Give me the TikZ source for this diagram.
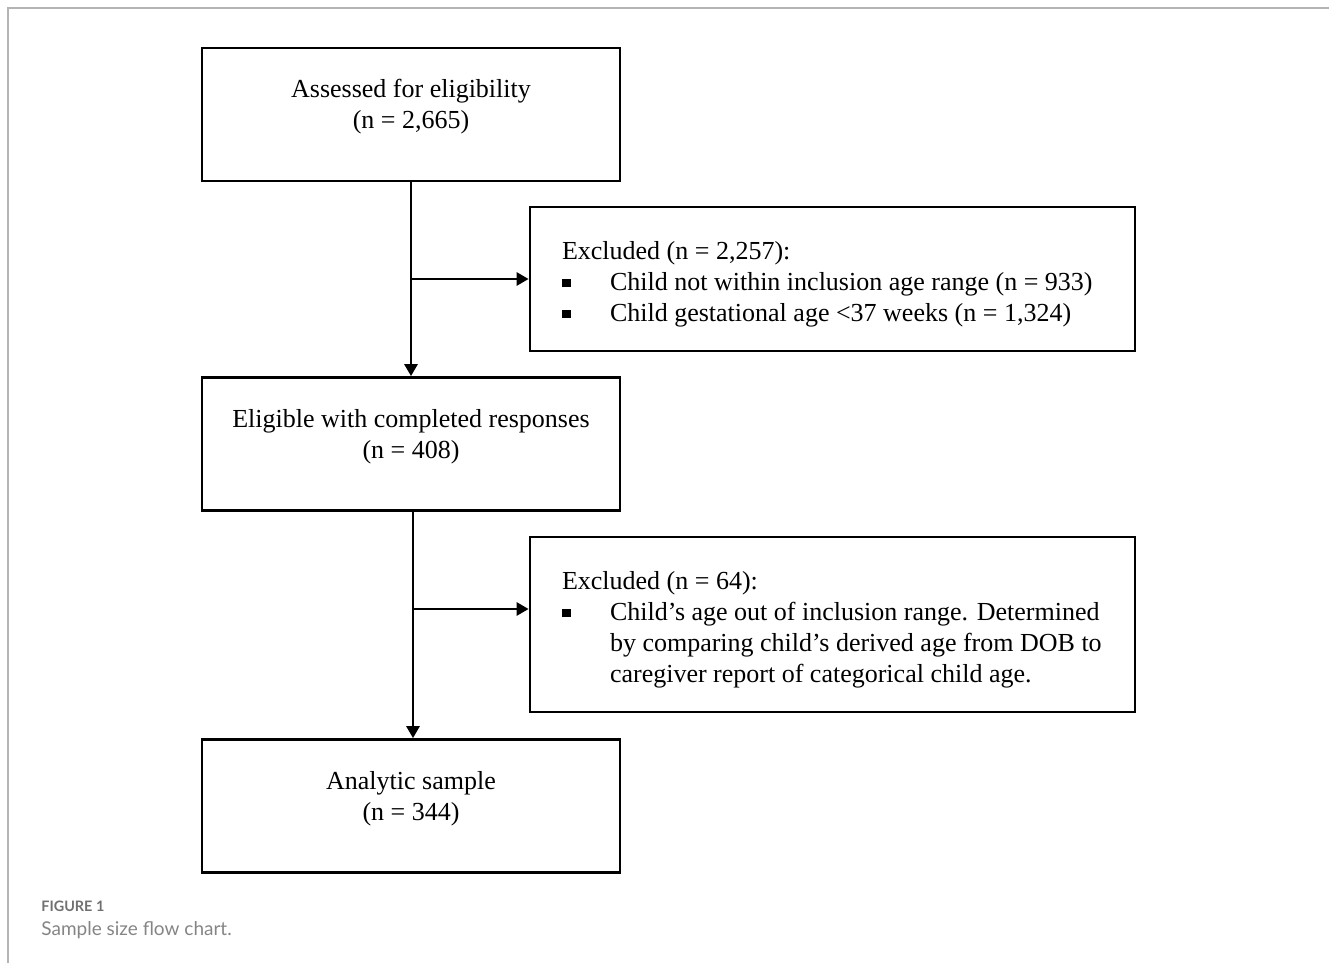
\documentclass[tikz,border=0pt]{standalone}
\usepackage{fontspec}
\setmainfont{Liberation Serif}
\newfontfamily\capfont{Lato}
\usetikzlibrary{arrows.meta,positioning}

\definecolor{framegray}{HTML}{B4B4B4}
\definecolor{capgray}{HTML}{707070}

% square bullet with hanging space
\newcommand{\sqbul}{\makebox[24pt][l]{\rule[1.4pt]{4.4pt}{4.4pt}}}
% two centred lines, lifted a little in the box
\newcommand{\boxlines}[2]{\raisebox{3.8pt}[\height][\depth]{\begin{tabular}{@{}c@{}}#1\\#2\end{tabular}}}
% flush-left lines in a fixed width
\newcommand{\exlines}[1]{\raisebox{-2.5pt}[\height][\depth]{\makebox[270.5pt][l]{\begin{tabular}{@{}l@{}}#1\end{tabular}}}}

\begin{document}
\begin{tikzpicture}[x=0.5pt, y=-0.5pt,
	font=\fontsize{13pt}{15.5pt}\selectfont,
	mainbox/.style={draw, line width=1.35pt, minimum width=209pt, minimum height=66.5pt, inner sep=0pt, align=center},
	exclbox/.style={draw, line width=1.35pt, minimum width=302.5pt, inner xsep=16pt, inner ysep=0pt},
	flow/.style={line width=1.35pt, -{Triangle[length=6pt, width=6.5pt]}}]

	\useasboundingbox (0,0) rectangle (1329,963);
	\draw[framegray, line width=1pt] (1329,8) -- (8,8) -- (8,963);

	% main column
	\node[mainbox] (assess) at (411,114.5) {\boxlines{Assessed for eligibility}{(n = 2,665)}};
	\node[mainbox] (elig) at (411,444) {\boxlines{Eligible with completed responses}{(n = 408)}};
	\node[mainbox] (sample) at (411,806) {\boxlines{Analytic sample}{(n = 344)}};

	% exclusions
	\node[exclbox, minimum height=72pt] (excl1) at (832.5,279) {\exlines{Excluded (n = 2,257):\\
		\sqbul Child not within inclusion age range (n = 933)\\
		\sqbul Child gestational age <37 weeks (n = 1,324)}};
	\node[exclbox, minimum height=87.5pt] (excl2) at (832.5,624.5) {\exlines{Excluded (n = 64):\\
		\sqbul Child’s age out of inclusion range. Determined\\
		\hspace*{24pt}by comparing child’s derived age from DOB to\\
		\hspace*{24pt}caregiver report of categorical child age.}};

	\coordinate (split2) at (413,609);

	\draw[flow] (assess) -- (elig);
	\draw[flow] (assess.south |- excl1.west) -- (excl1.west);
	\draw[flow] ([xshift=1pt]elig.south) -- ([xshift=1pt]sample.north);
	\draw[flow] (split2) -- (split2 -| excl2.west);

	% caption
	\node[anchor=base west, inner sep=0pt, text=capgray, font=\capfont\bfseries\fontsize{7.2pt}{9pt}\selectfont] (figlabel) at (41,911) {FIGURE 1};
	\node[anchor=base west, inner sep=0pt, text=capgray!85, font=\capfont\fontsize{9.5pt}{11pt}\selectfont] (figcap) at (41,935) {Sample size flow chart.};
\end{tikzpicture}
\end{document}
